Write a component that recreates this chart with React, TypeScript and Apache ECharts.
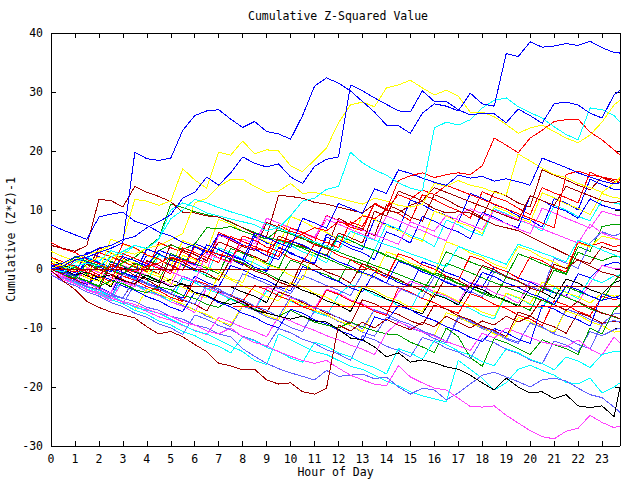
import React, { useEffect, useRef } from 'react';
import * as echarts from 'echarts';

const TITLE = 'Cumulative Z-Squared Value';
const X_NAME = 'Hour of Day';
const Y_NAME = 'Cumulative (Z*Z)-1';

const RED = '#ff0000';
const DRED = '#a00000';
const GREEN = '#00a000';
const BLUE = '#0000ff';
const LBLUE = '#6060ff';
const YELLOW = '#ffff00';
const CYAN = '#00ffff';
const MAG = '#ff40ff';
const BLACK = '#000000';

// sample times (hours)
const hours = [
  0, 0.5, 1, 1.5, 2, 2.5, 3, 3.5,
  4, 4.5, 5, 5.5, 6, 6.5, 7, 7.5,
  8, 8.5, 9, 9.5, 10, 10.5, 11, 11.5,
  12, 12.5, 13, 13.5, 14, 14.5, 15, 15.5,
  16, 16.5, 17, 17.5, 18, 18.5, 19, 19.5,
  20, 20.5, 21, 21.5, 22, 22.5, 23, 23.5,
  23.75,
];

const blueTop = [
  0, 0.5, 1.5, 2, 2.8, 3.5, 4.5, 19.8,
  18.7, 18.4, 18.8, 23.5, 26, 26.8, 27, 25.4,
  24, 25, 23.3, 22.9, 22, 26, 31, 32.4,
  31.5, 30.2, 28.4, 26.6, 24.4, 24.3, 23, 26.4,
  28, 27.6, 26.8, 29.8, 28, 27.6, 36.5, 36,
  38.5, 37.6, 37.8, 38.2, 37.9, 38.6, 37.5, 36.7,
  36.6,
];
const blueSecond = [
  0.5, 1, 2, 2.5, 3.5, 4, 5, 5.5,
  7, 8, 9.2, 12, 13, 15.6, 14.2, 16.3,
  19, 17.9, 17.3, 17.8, 15.6, 14.5, 17.4, 18.6,
  19, 31.2, 30.2, 29, 27.9, 26.8, 26.6, 30.2,
  28.4, 28.4, 27, 26.1, 26.4, 26.3, 24.8, 27.1,
  26, 24.7, 28, 28.3, 27.8, 26.4, 25.6, 29.5,
  30.3,
];
const blueThird = [
  7.5, 6.6, 5.8, 5, 8.8, 9.3, 9.6, 8.1,
  7.4, 6.3, 5.6, 4.5, 3.8, 2.7, 5.9, 5.2,
  4.1, 3.4, 2.3, 1.6, 4.8, 4.1, 3, 2.3,
  1.2, 0.5, -0.6, -1.3, -2.4, 1.3, 0.6, -0.5,
  -1.2, -2.3, -3, -4.1, -0.6, -1.3, -2.4, -3.1,
  -4.2, -4.9, -6, -2.8, -3.5, -4.6, -5.3, -4.8,
  -5,
];
const blueFourth = [
  0.5, -0.3, -1.1, 1.2, 0.4, -0.5, 2.1, 1.4,
  0.5, 3.2, 2.4, 1.6, 0.7, 4.1, 3.3, 2.4,
  1.6, 6.1, 5.3, 4.4, 3.6, 8.6, 7.8, 6.9,
  11.1, 10.3, 9.4, 13.6, 12.8, 16.8, 16.2, 15.4,
  14.7, 14.2, 15.9, 15.4, 15.7, 14.9, 15.3, 14.8,
  14.2, 18.8, 18, 17.2, 16.3, 15.6, 14.9, 14.4,
  14.6,
];
const yellowTop = [
  0, 1, 1.5, 2.5, 3, 4, 5, 11.8,
  11.5, 10.8, 11.5, 17, 15.1, 13.7, 19.8, 19.3,
  21.7, 19.5, 20.2, 20, 17.5, 16.5, 18.5, 20.5,
  24.8, 27.8, 28.3, 27.5, 30.7, 31.2, 32, 30.7,
  29.5, 30.3, 29.3, 26.6, 26.6, 25.8, 24.5, 23,
  23.9, 24.4, 23.3, 22.2, 21.4, 22.7, 24.9, 27.8,
  28.6,
];
const yellowSecond = [
  1, 0.5, 1.5, 1, 2, 1.5, 3, 2.5,
  3.5, 4, 5, 6, 11.2, 12, 14, 15.2,
  15.2, 14, 13, 13.2, 14.5, 12.8, 13, 12.5,
  12, 11.5, 11, 12, 11.5, 10.8, 10.5, 11,
  14.5, 14, 15, 14.2, 13.8, 13, 12.5, 19.5,
  18.3, 17.1, 16, 15.5, 14.5, 13.8, 13, 14.5,
  15.5,
];
const cyanTop = [
  0, -0.5, 0.5, 1, 0.5, 2, 3, 4,
  3.5, 5, 10, 11.2, 10.5, 9.5, 9, 8.5,
  8, 7.5, 6.5, 7, 9, 11.5, 12, 13.5,
  14, 19.8, 18, 16.8, 15.9, 14.6, 13.7, 13.2,
  23.9, 24.9, 24.4, 25.3, 27.3, 28.6, 29, 27.5,
  26.5, 25.6, 24.1, 22.8, 21.9, 27.3, 27, 26,
  24.9,
];
const cyanSecond = [
  0.5, -0.3, 1.1, 2, 1.3, 3.1, 2.4, 4,
  3.4, 5.1, 8.5, 10, 11.8, 11.2, 10.4, 9.7,
  9.1, 8.4, 7.6, 6.9, 6.1, 5.4, 4.6, 3.9,
  3.1, 6.4, 5.6, 4.9, 4.1, 3.4, 2.6, 1.9,
  1.1, 0.4, 3.8, 3.1, 2.3, 1.6, 0.8, 4.2,
  3.5, 2.7, 2, 1.2, 4.9, 4.1, 3.2, 2.4,
  2,
];
const redTop = [
  1, 0, -0.5, 0, -1, 0.5, 0, -0.5,
  0.5, 1, 2, 1.5, 1, 3, 2.5, 2,
  4, 3.5, 3, 5, 4.5, 6, 7, 6.5,
  8, 7.5, 9, 8.5, 10, 15, 15.8, 16.3,
  15.5, 16, 16.3, 16, 17.5, 22.2, 21, 19.7,
  22.2, 23.5, 25, 25.3, 25.4, 23.2, 21.9, 20.2,
  19.3,
];
const redSecond = [
  2, 1.2, 0.4, -0.5, -1.3, -2.1, 2.6, 1.8,
  0.9, 0.1, -0.8, 3.6, 2.8, 1.9, 1.1, 5.5,
  4.7, 3.8, 3, 2.1, 7, 6.2, 5.3, 4.5,
  3.6, 8, 7.2, 11, 10.2, 12.6, 11.8, 13.4,
  12.6, 14.2, 13.4, 12.6, 11.8, 11, 10.2, 9.4,
  8.6, 7.8, 7, 16, 16.6, 15.9, 15.6, 15.2,
  15.1,
];
const darkRedTop = [
  4, 3.5, 3, 4, 11.8, 11.6, 10.5, 14,
  13, 12.3, 11.4, 9.6, 9.5, 9, 8.8, 8,
  7, 6, 5.5, 12.5, 12.3, 12, 11.3, 11,
  10.5, 10, 9.5, 11, 10, 9.5, 10.8, 11.5,
  10.2, 9.5, 9.7, 9.5, 8.5, 7.5, 7, 6.5,
  5.5, 4.5, 3.5, 2.5, 1.5, 0.5, -0.5, -1,
  -1.5,
];
const darkRedSecond = [
  0, -0.9, 1.6, 0.8, -0.1, -0.9, -1.8, -2.6,
  1.4, 0.6, -0.3, 3.2, 2.4, 1.5, 4.6, 3.8,
  2.9, 2.1, 1.2, 5.6, 4.8, 3.9, 3.1, 2.2,
  6.1, 5.3, 4.4, 9.8, 9, 13.2, 12.4, 11.6,
  13.8, 13, 12.2, 11.4, 10.6, 9.8, 9, 8.2,
  12.4, 11.6, 10.8, 14, 13.2, 12.4, 11.6, 11.2,
  11.5,
];
const darkRedLow = [
  -0.2, -2, -3.5, -5.5, -6.5, -7.3, -7.8, -8.3,
  -9.8, -11, -10.6, -11.5, -12.8, -14, -16, -16.4,
  -17.1, -17, -18.8, -19.5, -19.3, -20.8, -21.2, -20.2,
  -9.5, -10.5, -9, -10, -8.5, -9.5, -10.3, -9,
  -9.8, -8, -9, -10, -8.8, -9.5, -8, -9,
  -8, -5, -6, -7, -5.5, -6.5, -7.5, -8,
  -8.5,
];
const blackLow = [
  0.5, 0, -1, -0.5, -1.5, -1, -2, -2.5,
  -1, -2, -3, -2.5, -4, -4.5, -5.5, -6,
  -5.5, -7, -7.5, -8, -8.5, -8, -8.8, -9,
  -10.2, -11.7, -12, -13.2, -14.9, -14.2, -15.8, -15.4,
  -15.9, -16.6, -17, -18, -19.3, -20.5, -18.5, -20,
  -21, -20.8, -22, -21.3, -23.2, -23.5, -23.2, -25,
  -20,
];
const magentaLow = [
  -0.5, -1.5, -2.5, -3.5, -4, -5, -5.5, -6,
  -6.8, -7.5, -8, -9, -9.5, -10.5, -11, -10,
  -11.5, -12.5, -13, -14, -14.8, -15.5, -16, -15.5,
  -16.8, -18, -18.8, -19.5, -19.8, -16.4, -18.3, -19.3,
  -20.2, -20.5, -21.9, -23.3, -23.4, -23.2, -24.8, -26.1,
  -27.4, -28.4, -28.8, -27.5, -27, -24.8, -26, -26.9,
  -26.6,
];
const lightBlueLow = [
  -0.5, -1.5, -2, -3, -3.5, -4.5, -5, -5.5,
  -6.5, -7, -8, -8.5, -9.5, -10, -11, -11.5,
  -13.5, -14.8, -16, -16.9, -17.6, -18.2, -18.8, -17.2,
  -18.2, -18, -17.8, -18.6, -18.3, -20, -21.2, -20.2,
  -20.5, -22.2, -21, -19.5, -18, -17.5, -18.3, -19.1,
  -20, -18.8, -18.5, -19, -20.2, -21.3, -21.8, -23.4,
  -24.3,
];
const cyanLow = [
  -0.5, -1.5, -2, -3, -4, -4.5, -5.5, -6.5,
  -7, -7.5, -8.5, -9.5, -10.5, -11, -12, -13,
  -14, -15.5, -16.2, -11, -12, -13, -14, -14.5,
  -15.5, -16.5, -17, -18, -19, -19.8, -20.8, -21.5,
  -22, -22.5, -15.5, -17, -18.5, -20.5, -19.3, -17,
  -16.3, -17.2, -18, -19.2, -19.5, -18.5, -21, -20,
  -19.3,
];
const cyanLowSecond = [
  -0.5, -1.6, -2.3, -3.4, -4.1, -5.2, -5.9, -7,
  -7.7, -8.8, -9.5, -10.6, -11.3, -12.4, -13.1, -14.2,
  -11.5, -12.2, -13.3, -14, -15.1, -15.8, -12.4, -13.1,
  -14.2, -14.9, -16, -16.7, -17.8, -13.5, -14.2, -15.3,
  -12.1, -12.8, -13.9, -14.6, -15.7, -16.4, -13.5, -14.2,
  -15.3, -16, -17.1, -14.9, -15.6, -16.7, -14.5, -14,
  -14,
];
const magentaMid = [
  0, -1.1, -2.1, -2.8, -3.9, -4.6, -5.7, -6.3,
  -7.2, -8.1, -8.7, -9.6, -10.4, -11.1, -8.2, -9,
  -9.9, -10.6, -11.5, -8, -8.8, -9.7, -10.4, -11.3,
  -12, -12.9, -13.6, -14.5, -10.8, -9, -9.8, -10.7,
  -11.4, -12.3, -13, -13.8, -10.9, -11.7, -10, -10.8,
  -11.6, -12.4, -12.8, -13.2, -12, -13.6, -14.6, -11.5,
  -12.5,
];
const magentaHigh = [
  -0.5, -1.3, -2.1, 0.2, -0.6, -1.4, -2.2, -3,
  1.1, 0.3, -0.5, -1.3, -2.1, 2.6, 1.8, 1,
  5.1, 4.3, 8.6, 7.8, 7, 6.2, 5.4, 9,
  8.2, 7.4, 6.6, 5.8, 5, 4.2, 8, 7.2,
  6.4, 9.1, 8.3, 7.5, 6.7, 10, 9.2, 8.4,
  7.6, 6.8, 6, 5.2, 4.4, 7.6, 6.1, 5.3,
  5,
];
const greenTop = [
  0, -0.8, 0.3, -0.9, 0.6, -0.2, 1.1, 2,
  3.6, 5.2, 11, 10.4, 9.7, 9.2, 8.8, 7.9,
  7, 6.2, 5.4, 4.9, 4.3, 3.7, 3.1, 2.3,
  5.6, 4.8, 3.9, 3.2, 2.2, 1.6, 0.7, 0,
  -0.9, -1.6, -2.5, -3.1, -4, -4.6, -5.5, -6.1,
  -7, -3, -3.9, -4.8, -5.6, -6.8, -7.4, -8.1,
  -8.5,
];
const greenSecond = [
  1, 0.2, 2.1, 1.3, 0.6, -0.2, -0.9, 1,
  0.3, 3.1, 4.1, 3.3, 4.2, 7, 6.8, 7.2,
  6.4, 5.7, 5.1, 6.6, 5.9, 5.1, 4.4, 3.6,
  2.9, 2.1, 1.4, 0.6, -0.1, -0.9, -1.7, -2.5,
  -3.2, 1, 0.2, -0.6, -1.5, -2.3, -3.1, -3.8,
  -4.6, -5.3, -6.1, -3, -3.8, -4.6, -5.4, -2.2,
  -1,
];
const greenLow = [
  0, -1, -1.5, -2, -3, -2, -2.5, -3.5,
  -4, -3, -3.5, -4.5, -5, -6, -6.5, -5,
  -6, -6.8, -7.5, -8, -7, -8, -9, -9.5,
  -10, -9, -9.8, -10.5, -11, -11.2, -12.4, -13.2,
  -14.2, -10, -11.5, -15, -16.5, -11.8, -12.5, -13.5,
  -14.5, -12, -12.8, -13.5, -14.5, -10, -11, -7,
  -6,
];
const redA = [
  1, 0.2, -0.6, -1.5, 2.8, 2.1, 1.2, 0.4,
  -0.5, 4.5, 3.6, 2.9, 1.8, 1.1, 6.2, 5.3,
  4.1, 3.4, 2.2, 7.5, 6.4, 5.8, 4.6, 9.1,
  8.2, 7.1, 6.5, 11.2, 10.1, 9.4, 8.2, 12.6,
  11.8, 10.7, 9.9, 8.6, 13.1, 12.2, 11.5, 10.3,
  9.2, 13.8, 12.9, 12.1, 11.2, 16.4, 15.5, 14.6,
  15,
];
const darkRedA = [
  2, 1.2, 0.5, -0.4, 3.6, 2.7, 1.9, 0.8,
  0.1, -0.8, 4.2, 3.1, 2.5, 1.4, 5.8, 4.9,
  3.8, 3.1, 7.9, 7.1, 5.9, 5.2, 4.1, 3.4,
  8.6, 7.5, 6.8, 5.6, 10.9, 10.1, 8.8, 8.1,
  12.6, 11.8, 10.6, 9.9, 8.7, 13.2, 12.4, 11.2,
  10.5, 16.8, 15.9, 15.1, 14.2, 13.4, 15.6, 14.9,
  14.6,
];
const blueA = [
  0, -0.7, -1.6, 1.8, 1.1, 0.2, -0.6, -1.5,
  2.4, 1.6, 0.7, -0.2, 4.3, 3.5, 2.4, 1.7,
  0.6, 5.5, 4.4, 3.8, 2.6, 1.9, 0.8, 5.9,
  5.1, 4, 3.3, 8.4, 7.6, 6.5, 11.7, 10.9,
  9.8, 9.1, 7.9, 12.8, 12, 10.9, 10.2, 9,
  8.3, 7.1, 11.9, 11.2, 10, 15.2, 14.3, 13.5,
  13.5,
];
const yellowA = [
  3, 2.1, 1.4, 0.3, -0.4, 5.1, 4.2, 3.5,
  2.3, 1.6, 0.5, 4.8, 4, 2.9, 8.4, 7.6,
  6.4, 5.7, 4.6, 3.8, 8.9, 8.1, 7, 6.2,
  5.1, 4.4, 9.2, 8.4, 7.3, 6.6, 5.4, 4.7,
  9.8, 9, 7.9, 7.2, 6, 10.6, 9.8, 8.7,
  7.9, 12.9, 12.1, 11, 10.3, 9.2, 12.8, 12.1,
  12,
];
const cyanA = [
  -0.5, -1.3, -2.2, 1.7, 0.9, 0.1, -0.9, -1.6,
  -2.6, 2.4, 1.5, 0.8, -0.3, -1, 3.6, 2.8,
  1.7, 1, -0.1, 4.8, 4, 2.9, 2.2, 1,
  5.7, 4.9, 3.8, 3.1, 7.6, 6.8, 5.7, 5,
  3.8, 8.3, 7.5, 6.4, 5.7, 10.2, 9.4, 8.3,
  7.6, 6.4, 10.8, 10, 8.9, 8.2, 11.6, 11.2,
  11,
];
const blueB = [
  1, 0.1, -0.6, 2.9, 2.1, 1.2, 0.5, -0.6,
  3.4, 2.6, 1.5, 0.8, -0.3, 4.1, 3.3, 2.2,
  1.5, 0.3, -0.4, 3.6, 2.8, 1.7, 1, 5.4,
  4.6, 3.5, 2.8, 1.6, 6.3, 5.5, 4.4, 8.9,
  8.1, 7, 6.3, 5.1, 9.6, 8.8, 7.7, 7,
  12.4, 11.6, 10.5, 9.8, 8.6, 11.9, 10.8, 10.2,
  10,
];
const magentaA = [
  0, -0.8, -1.7, -2.4, -3.3, -4.1, 0.6, -0.2,
  -1.1, -1.9, -2.8, 1.4, 0.6, -0.3, 5.8, 5,
  4.1, 3.3, 8.6, 7.8, 6.9, 6.1, 5.2, 8.4,
  7.6, 6.7, 5.9, 5, 9, 8.2, 7.3, 6.5,
  5.6, 4.8, 9.1, 10.2, 9.4, 8.5, 7.7, 6.8,
  6, 10.3, 9.5, 8.6, 7.8, 6.9, 9.8, 9.2,
  9,
];
const greenA = [
  0.5, -0.3, -1.2, -2, -2.9, 1.3, 0.5, -0.4,
  -1.2, -2.1, 2.6, 1.8, 0.9, 0.1, -0.8, 3.5,
  2.7, 1.8, 1, 0.1, 4.3, 3.5, 2.6, 1.8,
  0.9, 0.1, -0.8, 3.2, 2.4, 1.5, 0.7, -0.2,
  -1, 2.9, 2.1, 1.2, 0.4, -0.5, -1.3, 2.6,
  1.8, 0.9, 0.1, -0.8, 3.8, 3, 7.2, 7.6,
  7.5,
];
const lightBlueA = [
  -0.5, -1.4, -2.2, -3.1, -3.9, -4.8, -0.9, -1.7,
  -2.6, -3.4, -4.3, -1.2, -2, -2.9, -3.7, -4.6,
  -0.8, -1.6, -2.5, -3.3, -4.2, -1.1, -1.9, -2.8,
  -3.6, -4.5, -0.7, -1.5, -2.4, -3.2, -4.1, -4.9,
  -1.3, -2.1, -3, -3.8, -4.7, -0.4, -1.2, -2.1,
  -2.9, -3.8, 1.8, 1, 0.1, 4.4, 6.3, 5.6,
  6,
];
const yellowB = [
  1.5, 0.4, -0.3, -1.5, -2.1, 2.8, 1.6, 1,
  -0.2, -0.9, -2, 2.3, 1.6, 0.3, -0.4, -1.6,
  -2.3, 1.9, 0.7, 0.1, -1.1, -1.8, 3.1, 2.4,
  1.2, 0.5, -0.7, -1.4, 2.9, 2.2, 1, 0.3,
  -0.9, 4.6, 3.9, 2.7, 2, 0.8, 0.1, 3.8,
  3.1, 1.9, 1.2, 0, 4.4, 3.7, 5.6, 5.1,
  5,
];
const redB = [
  4.5, 3.4, 2.8, 1.6, 0.9, -0.2, 4.3, 3.6,
  2.4, 1.7, 0.5, -0.2, 3.8, 3.1, 1.9, 1.2,
  5.6, 4.9, 3.7, 3, 1.8, 1.1, 4.2, 3.5,
  2.3, 1.6, 0.4, -0.3, -1.5, 2.6, 1.9, 0.7,
  0, -1.2, -1.9, 2.2, 1.5, 0.3, -0.4, -1.6,
  2.1, 1.4, 0.2, -0.5, 4.6, 3.9, 4.5, 3.8,
  4,
];
const darkRedB = [
  0, -1.1, -1.7, -2.9, -3.5, 0.8, 0.1, -1.1,
  -1.8, -3, 1.9, 1.2, 0, -0.7, -1.9, 1.6,
  0.9, -0.3, -1, -2.2, -2.9, 1.4, 0.7, -0.5,
  -1.2, -2.4, 0.9, 0.2, -1, -1.7, -2.9, -3.6,
  -4.8, -1.2, -1.9, -3.1, 0.6, -0.1, -1.3, -2,
  -3.2, -3.9, 0.8, 0.1, 1.6, 0.9, 3.8, 3.1,
  3,
];
const greenB = [
  0, -0.9, -1.6, 0.9, 0.2, 2.1, 1.4, 0.3,
  -0.4, 2.4, 1.7, 0.6, -0.1, -1.2, -1.9, 1.8,
  1.1, 0, -0.7, -1.8, 1.5, 0.8, -0.3, -1,
  -2.1, 1.6, 0.9, -0.2, -0.9, -2, -2.7, -3.8,
  -0.6, -1.3, -2.4, -3.1, -4.2, -4.9, -1.4, -2.1,
  -3.2, -3.9, -0.2, -0.9, 2.8, 2.1, 1.4, 2.2,
  2,
];
const blueC = [
  0.5, -0.5, -1.2, -2.3, -3, -4.1, -0.6, -1.3,
  -2.4, -3.1, -4.2, -4.9, -1.2, -2.3, -3, 0.6,
  -0.1, -1.2, -1.9, -3, -3.7, 0.4, -0.3, -1.4,
  -2.1, -3.2, -3.9, -0.5, -1.2, -2.3, -3, 1.2,
  0.5, -0.6, -1.3, -2.4, -3.1, 0.3, -0.4, -1.5,
  -2.2, -3.3, -4, -4.6, -0.8, -1.5, 0.5, 1.1,
  1,
];
const magentaB = [
  -1, -1.8, -2.5, -3.6, -4.3, -5.4, -2, -2.7,
  -3.8, -4.5, -5.6, -6.3, -7.4, -3.2, -3.9, -5,
  -5.7, -6.8, -3.1, -3.8, -4.9, -5.6, -6.7, -3.4,
  -4.1, -5.2, -5.9, -7, -7.7, -3.9, -2.1, -2.8,
  -3.9, -4.6, -5.7, -2.2, -2.9, -4, -4.7, -5.8,
  -2.1, -2.8, -3.9, -4.6, -5.7, -2.4, 0.6, 0.1,
  0,
];
const cyanB = [
  0, -1.1, -1.8, -2.9, -3.6, -4.7, -1.9, -2.6,
  -3.7, -4.4, -5.5, -1.6, -2.3, -3.4, -4.1, -5.2,
  -5.9, -7, -3.7, -4.4, -5.5, -6.2, -7.3, -8,
  -4.4, -2.6, -3.3, -4.4, -5.1, -6.2, -6.9, -3.1,
  -4.2, -4.9, -6, -6.7, -7.8, -8.5, -4.2, -4.9,
  -6, -6.7, -3.2, -3.9, -5, -1.6, -2.3, -1.2,
  -1,
];
const blackA = [
  1.5, 0.6, -0.1, -1.2, -1.9, -3, 0.2, -0.5,
  -1.6, -2.3, -1.8, -2.6, -3, -3, -3, -3,
  -3.9, -4.6, -5.7, -1.8, -2.5, -3.6, -4.3, -5.4,
  -6.1, -7.2, -3.3, -4, -5.1, -5.8, -6.9, -7.6,
  -4.3, -5, -6.1, -2.8, -3.5, -4.6, -5.3, -6.4,
  -3.2, -3.9, -5, -1.7, -2.4, -3.5, -4.2, -2.3,
  -2,
];
const yellowC = [
  2, 0.9, 0.2, -0.9, -1.6, -2.7, 1.2, 0.5,
  -0.6, -1.3, -2.4, -3.1, -4.2, -4.9, -1.1, -1.8,
  -2.9, -3.6, -4.7, -5.4, -2.3, -3, -4.1, -4.8,
  -5.9, -6.6, -2.9, -3.6, -4.7, -5.4, -6.5, -7.2,
  -3.7, -4.4, -5.5, -6.2, -7.3, -8, -4.1, -4.8,
  -5.9, -2.2, -2.9, -4, -4.7, -5.8, -4.1, -4.6,
  -4.5,
];
const redC = [
  0, -1.1, -1.8, -2.9, 0.6, -0.1, -1.2, -1.9,
  -3, -3.7, -4.8, -5.5, -1.9, -2.6, -3.7, -4.4,
  -5.5, -2.8, -3.5, -4.6, -5.3, -6.4, -7.1, -3.6,
  -4.3, -5.4, -6.1, -7.2, -7.9, -3.2, -3.9, -5,
  -5.7, -6.8, -7.5, -4.2, -4.9, -6, -6.7, -7.8,
  -8.5, -9.6, -5.4, -6.1, -7.2, -7.9, -4.6, -5.2,
  -5,
];
const lightBlueB = [
  -0.5, -1.6, -2.3, -3.4, -4.1, -5.2, -5.9, -2.6,
  -3.3, -4.4, -5.1, -6.2, -6.9, -8, -8.7, -9.8,
  -6.3, -7, -8.1, -8.8, -9.9, -10.6, -7.1, -7.8,
  -8.9, -9.6, -10.7, -11.4, -8.2, -8.9, -10, -10.7,
  -11.8, -12.5, -8.3, -9, -10.1, -10.8, -11.9, -12.6,
  -9.1, -9.8, -10.9, -6.8, -7.5, -8.6, -9.3, -7.6,
  -7.5,
];
const darkRedC = [
  0.5, -0.6, -1.3, -2.4, -3.1, -4.2, -4.9, -1.7,
  -2.4, -3.5, -4.2, -5.3, -6, -7.1, -3.8, -4.5,
  -5.6, -6.3, -7.4, -3.9, -4.6, -5.7, -6.4, -7.5,
  -8.2, -9.3, -5.2, -5.9, -7, -7.7, -8.8, -9.5,
  -6.1, -6.8, -7.9, -8.6, -9.7, -10.4, -11.5, -7.3,
  -8, -9.1, -9.8, -10.9, -7.4, -8.1, -9.2, -8.8,
  -9,
];
const yellowD = [
  -0.5, -1.6, -2.3, -3.4, -4.1, -5.2, -5.9, -7,
  -3.4, -4.1, -5.2, -5.9, -7, -7.7, -8.8, -9.5,
  -6.1, -6.8, -7.9, -8.6, -5.2, -5.9, -7, -7.7,
  -8.8, -9.5, -10.6, -6.9, -7.6, -8.7, -9.4, -10.5,
  -11.2, -7.4, -8.1, -9.2, -9.9, -11, -11.7, -8.2,
  -8.9, -10, -10.7, -7.1, -7.8, -8.9, -9.6, -10.7,
  -10.5,
];
const blueD = [
  0, -0.8, -1.9, -2.6, -1.1, -1.8, -2.9, -3.6,
  -4.7, -5.4, -6.5, -7.2, -3.9, -4.6, -5.7, -6.4,
  -7.5, -8.2, -9.3, -10, -6.8, -7.5, -8.6, -9.3,
  -10.4, -11.1, -12.2, -8.1, -8.8, -6.2, -6.9, -8,
  -8.7, -9.8, -10.5, -11.6, -12.3, -10.1, -10.8, -11.9,
  -12.6, -6.1, -6.8, -7.9, -8.6, -9.7, -4.2, -4.9,
  -4.5,
];
const lightBlueC = [
  -1, -2.1, -2.8, -3.9, -4.6, -5.7, -6.4, -7.5,
  -8.2, -9.3, -10, -11.1, -7.8, -8.5, -9.6, -10.3,
  -11.4, -12.1, -13.2, -10.1, -10.8, -11.9, -12.6, -13.7,
  -14.4, -15.5, -11.3, -12, -13.1, -13.8, -14.9, -11.6,
  -12.3, -13.4, -14.1, -15.2, -11.8, -12.5, -13.6, -14.3,
  -15.4, -16.1, -12.2, -12.9, -14, -10.6, -11.3, -10.3,
  -10,
];
const lightBlueD = [
  0.5, -0.6, -1.3, -2.4, -3.1, -4.2, -4.9, -1.6,
  -2.3, -3.4, -4.1, -5.2, -5.9, -2.7, -3.4, -4.5,
  -5.2, -6.3, -7, -8.1, -4.7, -5.4, -6.5, -7.2,
  -8.3, -9, -10.1, -6.9, -7.6, -8.7, -9.4, -10.5,
  -11.2, -12.3, -8.1, -8.8, -9.9, -10.6, -11.7, -12.4,
  -9.2, -9.9, -11, -11.7, -12.8, -13.5, -9.4, -8.7,
  -9,
];

// flat (held) runs: [hour, value] end points
const flatZero = [[0, 0], [13.2, 0]];
const flatMinus3 = [[5.5, -3], [23.75, -3]];
const flatMinus6 = [[7.6, -6.3], [23.75, -6.3]];

const LINES: { c: string; v: number[] }[] = [
  { c: GREEN, v: greenB },
  { c: BLUE, v: blueC },
  { c: MAG, v: magentaB },
  { c: CYAN, v: cyanB },
  { c: BLACK, v: blackA },
  { c: YELLOW, v: yellowC },
  { c: RED, v: redC },
  { c: LBLUE, v: lightBlueB },
  { c: DRED, v: darkRedC },
  { c: YELLOW, v: yellowD },
  { c: BLUE, v: blueD },
  { c: LBLUE, v: lightBlueC },
  { c: LBLUE, v: lightBlueD },
  { c: RED, v: redA },
  { c: DRED, v: darkRedA },
  { c: BLUE, v: blueA },
  { c: YELLOW, v: yellowA },
  { c: CYAN, v: cyanA },
  { c: BLUE, v: blueB },
  { c: MAG, v: magentaA },
  { c: GREEN, v: greenA },
  { c: LBLUE, v: lightBlueA },
  { c: YELLOW, v: yellowB },
  { c: RED, v: redB },
  { c: DRED, v: darkRedB },
  { c: GREEN, v: greenTop },
  { c: GREEN, v: greenSecond },
  { c: GREEN, v: greenLow },
  { c: MAG, v: magentaHigh },
  { c: MAG, v: magentaMid },
  { c: CYAN, v: cyanLowSecond },
  { c: CYAN, v: cyanLow },
  { c: LBLUE, v: lightBlueLow },
  { c: MAG, v: magentaLow },
  { c: BLACK, v: blackLow },
  { c: DRED, v: darkRedLow },
  { c: DRED, v: darkRedTop },
  { c: DRED, v: darkRedSecond },
  { c: RED, v: redSecond },
  { c: CYAN, v: cyanSecond },
  { c: YELLOW, v: yellowSecond },
  { c: BLUE, v: blueThird },
  { c: BLUE, v: blueFourth },
  { c: RED, v: redTop },
  { c: CYAN, v: cyanTop },
  { c: YELLOW, v: yellowTop },
  { c: BLUE, v: blueSecond },
  { c: BLUE, v: blueTop },
];

const FLATS: { c: string; d: number[][] }[] = [
  { c: DRED, d: flatZero },
  { c: DRED, d: flatMinus3 },
  { c: RED, d: flatMinus6 },
];

const FONT = 'DejaVu Sans Mono';

export default function App() {
  const ref = useRef<HTMLDivElement>(null);
  useEffect(() => {
    if (!ref.current) return;
    const chart = echarts.init(ref.current, null, { renderer: 'svg' });
    const series: any[] = [];
    LINES.forEach((l, k) => {
      series.push({
        type: 'line',
        name: 'L' + k,
        data: l.v.map((v, i) => [hours[i], v]),
        showSymbol: false,
        symbol: 'none',
        lineStyle: { color: l.c, width: 1 },
        silent: true,
      });
    });
    FLATS.forEach((f, k) => {
      series.push({
        type: 'line',
        name: 'F' + k,
        data: f.d,
        showSymbol: false,
        symbol: 'none',
        lineStyle: { color: f.c, width: 1 },
        silent: true,
      });
    });
    const tick = { inside: true, length: 5, lineStyle: { color: '#000', width: 1 } };
    const line = { show: true, onZero: false, lineStyle: { color: '#000', width: 1 } };
    const lab = { color: '#000', fontFamily: FONT, fontSize: 11.5 };
    chart.setOption({
      animation: false,
      backgroundColor: '#fff',
      title: {
        text: TITLE,
        left: 243,
        top: 5,
        textStyle: { color: '#000', fontFamily: FONT, fontSize: 11.5, fontWeight: 'normal' },
      },
      grid: {
        left: 51, top: 33, right: 20, bottom: 34,
        containLabel: false, outerBoundsMode: 'none',
      },
      xAxis: [
        {
          type: 'value', min: 0, max: 23.75, interval: 1, position: 'bottom',
          axisLine: line, axisTick: tick, splitLine: { show: false },
          axisLabel: { ...lab, margin: 7, showMaxLabel: false,
            formatter: (v: number) => (Number.isInteger(v) ? String(v) : '') },
          name: X_NAME, nameLocation: 'middle', nameGap: 20, nameMoveOverlap: false,
          nameTextStyle: lab,
        },
        {
          type: 'value', min: 0, max: 23.75, interval: 1, position: 'top',
          axisLine: line, axisTick: tick, splitLine: { show: false },
          axisLabel: { show: false },
        },
      ],
      yAxis: [
        {
          type: 'value', min: -30, max: 40, interval: 10, position: 'left',
          axisLine: line, axisTick: tick, splitLine: { show: false },
          axisLabel: { ...lab, margin: 8 },
          name: Y_NAME, nameLocation: 'middle', nameGap: 34, nameRotate: 90, nameMoveOverlap: false,
          nameTextStyle: lab,
        },
        {
          type: 'value', min: -30, max: 40, interval: 10, position: 'right',
          axisLine: line, axisTick: tick, splitLine: { show: false },
          axisLabel: { show: false },
        },
      ],
      series,
    });
    return () => chart.dispose();
  }, []);
  return (
    <>
      <style>{`#chartbox svg path{shape-rendering:crispEdges}`}</style>
      <div
        id="chartbox"
        ref={ref}
        style={{ position: 'fixed', left: 0, top: 0, width: 640, height: 480, background: '#fff' }}
      />
    </>
  );
}
